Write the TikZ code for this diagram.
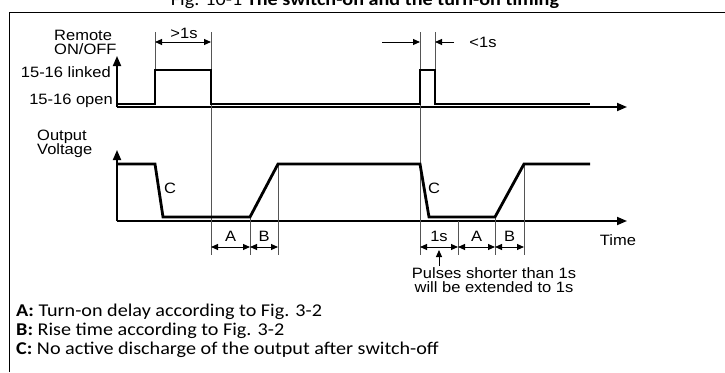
\documentclass[tikz,border=0pt]{standalone}
\usepackage{fontspec}
\setmainfont[FakeStretch=1.12]{Carlito}
\newfontfamily\diagfont[FakeStretch=1.1]{Liberation Sans}
\usetikzlibrary{arrows.meta}
\definecolor{ink}{HTML}{000000}
\definecolor{guide}{HTML}{555555}
\tikzset{
  axis/.style={draw=ink, line width=1.8pt, -{Triangle[length=10pt,width=8pt]}},
  signal/.style={draw=ink, line width=2.8pt, line join=miter},
  guideline/.style={draw=guide, line width=0.8pt},
  dim/.style={draw=ink, line width=1pt, {Triangle[length=7pt,width=6pt]}-{Triangle[length=7pt,width=6pt]}},
  dimin/.style={draw=ink, line width=1pt, -{Triangle[length=7pt,width=6pt]}},
  tag/.style={font={\diagfont\fontsize{15}{14}\selectfont}, inner sep=0pt},
  note/.style={font={\fontsize{18}{19}\selectfont}, anchor=base west, inner sep=0pt},
}
\begin{document}
\begin{tikzpicture}[x=1pt,y=-1pt]
  \useasboundingbox (0,0) rectangle (725,372);
  % title and frame
  \node[font={\fontsize{18}{19}\selectfont}, anchor=base, inner sep=0pt] (title) at (365,5.5)
    {Fig. 10-1 \textbf{The switch-on and the turn-on timing}};
  \draw[line width=1pt] (9,372) -- (9,12) -- (725,12);

  % axes
  \coordinate (ro) at (117,107);  \coordinate (rtop) at (117,56);  \coordinate (rend) at (627,107);
  \coordinate (vo) at (117,221);  \coordinate (vtop) at (117,150); \coordinate (vend) at (627,221);
  \draw[axis] (ro) -- (rtop);
  \draw[axis] (ro) -- (rend);
  \draw[axis] (vo) -- (vtop);
  \draw[axis] (vo) -- (vend);

  % guide lines
  \foreach \x/\ya/\yb in {155/32/70, 211/32/255, 250/217/255, 278/164/255,
                          420/32/255, 435/32/70, 458/221/255, 495/217/255, 524/164/255}
    {\draw[guideline] (\x,\ya) -- (\x,\yb);}

  % remote on/off signal
  \draw[signal] (117,104) -- (155,104) -- (155,70) -- (211,70) -- (211,104)
    -- (420,104) -- (420,70) -- (435,70) -- (435,104) -- (590,104);
  % output voltage
  \draw[signal] (117,164) -- (155,164) -- (163,217) -- (250,217) -- (278,164)
    -- (420,164) -- (429,217) -- (495,217) -- (524,164) -- (590,164);

  % labels of the axes
  \node[tag, align=left, anchor=north west] (remote) at (54,30) {Remote\\ON/OFF};
  \node[tag, anchor=east] (linked) at (111,72) {15-16 linked};
  \node[tag, anchor=east] (open) at (113,101) {15-16 open};
  \node[tag, align=left, anchor=north west] (output) at (37,130) {Output\\Voltage};
  \node[tag] (time) at (618,240) {Time};
  \node[tag] (c1) at (170,188) {C};
  \node[tag] (c2) at (434,188) {C};

  % time spans
  \coordinate (p1) at (155,42); \coordinate (p2) at (211,42);
  \draw[dim] (p1) -- (p2);
  \node[tag] (longer) at (184,33) {>1s};
  \coordinate (q0) at (382,42); \coordinate (q1) at (420,42);
  \coordinate (q2) at (435,42); \coordinate (q3) at (454,42);
  \draw[dimin] (q0) -- (q1);
  \draw[dimin] (q3) -- (q2);
  \node[tag] (shorter) at (483,42) {<1s};

  \foreach \a/\b/\t [count=\i] in {211/250/A, 250/278/B, 420/458/1s, 458/495/A, 495/524/B}
    {\coordinate (s\i a) at (\a,247); \coordinate (s\i b) at (\b,247);
     \draw[dim] (s\i a) -- (s\i b);
     \node[tag] (span\i) at ({(\a+\b)/2},236) {\t};}

  \coordinate (tip) at (439,250); \coordinate (foot) at (439,266);
  \draw[dimin] (foot) -- (tip);
  \node[tag, align=center, anchor=north] (pulse) at (494,267)
    {Pulses shorter than 1s\\will be extended to 1s};

  % notes
  \node[note] (na) at (16,316) {\textbf{A:} Turn-on delay according to Fig. 3-2};
  \node[note] (nb) at (16,335) {\textbf{B:} Rise time according to Fig. 3-2};
  \node[note] (nc) at (16,354) {\textbf{C:} No active discharge of the output after switch-off};
\end{tikzpicture}
\end{document}
